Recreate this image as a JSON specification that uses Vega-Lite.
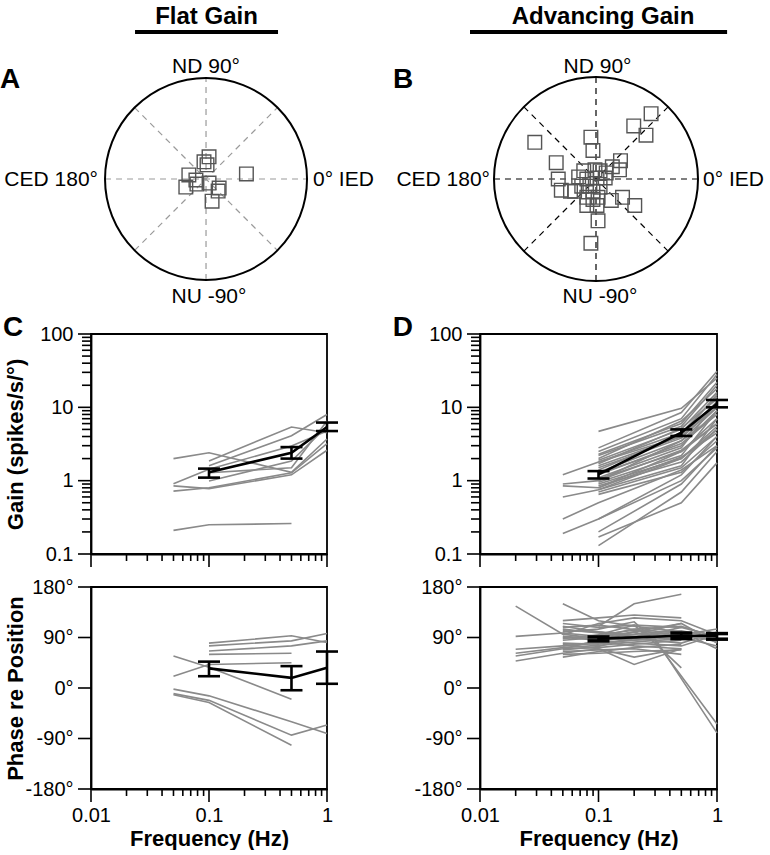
{
"$schema": "https://vega.github.io/schema/vega-lite/v6.json",
"padding": {"left": 0, "top": 4, "right": 0, "bottom": 0},
"config": {
  "font": "Liberation Sans",
  "view": {"stroke": "black", "strokeWidth": 1.8},
  "axis": {"ticks": false, "domainColor": "black", "domainWidth": 1.8, "labelFont": "Liberation Sans", "labelFontSize": 20, "labelColor": "black", "titleFont": "Liberation Sans", "titleFontSize": 22, "titleFontWeight": "bold", "titleColor": "black", "grid": false, "labelFlush": false, "labelOverlap": false}
},
"datasets": {
  "ticksFreq": [{"v": 0.01, "kind": "major"}, {"v": 0.02, "kind": "minor"}, {"v": 0.03, "kind": "minor"}, {"v": 0.04, "kind": "minor"}, {"v": 0.05, "kind": "minor"}, {"v": 0.06, "kind": "minor"}, {"v": 0.07, "kind": "minor"}, {"v": 0.08, "kind": "minor"}, {"v": 0.09, "kind": "minor"}, {"v": 0.1, "kind": "major"}, {"v": 0.2, "kind": "minor"}, {"v": 0.3, "kind": "minor"}, {"v": 0.4, "kind": "minor"}, {"v": 0.5, "kind": "minor"}, {"v": 0.6, "kind": "minor"}, {"v": 0.7, "kind": "minor"}, {"v": 0.8, "kind": "minor"}, {"v": 0.9, "kind": "minor"}, {"v": 1, "kind": "major"}],
  "ticksGain": [{"v": 0.1, "kind": "major"}, {"v": 0.2, "kind": "minor"}, {"v": 0.3, "kind": "minor"}, {"v": 0.4, "kind": "minor"}, {"v": 0.5, "kind": "minor"}, {"v": 0.6, "kind": "minor"}, {"v": 0.7, "kind": "minor"}, {"v": 0.8, "kind": "minor"}, {"v": 0.9, "kind": "minor"}, {"v": 1, "kind": "major"}, {"v": 2, "kind": "minor"}, {"v": 3, "kind": "minor"}, {"v": 4, "kind": "minor"}, {"v": 5, "kind": "minor"}, {"v": 6, "kind": "minor"}, {"v": 7, "kind": "minor"}, {"v": 8, "kind": "minor"}, {"v": 9, "kind": "minor"}, {"v": 10, "kind": "major"}, {"v": 20, "kind": "minor"}, {"v": 30, "kind": "minor"}, {"v": 40, "kind": "minor"}, {"v": 50, "kind": "minor"}, {"v": 60, "kind": "minor"}, {"v": 70, "kind": "minor"}, {"v": 80, "kind": "minor"}, {"v": 90, "kind": "minor"}, {"v": 100, "kind": "major"}],
  "ticksPhase": [{"v": -180}, {"v": -90}, {"v": 0}, {"v": 90}, {"v": 180}],
  "spokes": [{"x1": -1, "y1": 0, "x2": 1, "y2": 0}, {"x1": 0, "y1": -1, "x2": 0, "y2": 1}, {"x1": -0.707, "y1": -0.707, "x2": 0.707, "y2": 0.707}, {"x1": -0.707, "y1": 0.707, "x2": 0.707, "y2": -0.707}],
  "polarA": [{"x": 0.40, "y": 0.05}, {"x": 0.03, "y": 0.22}, {"x": 0.01, "y": 0.14}, {"x": -0.02, "y": 0.17}, {"x": -0.17, "y": 0.04}, {"x": -0.20, "y": -0.08}, {"x": -0.09, "y": -0.05}, {"x": 0.03, "y": -0.04}, {"x": 0.13, "y": -0.09}, {"x": 0.12, "y": -0.12}, {"x": 0.06, "y": -0.22}, {"x": -0.10, "y": -0.01}],
  "polarB": [{"x": 0.54, "y": 0.64}, {"x": 0.37, "y": 0.52}, {"x": 0.49, "y": 0.43}, {"x": -0.60, "y": 0.36}, {"x": -0.05, "y": 0.41}, {"x": -0.03, "y": 0.28}, {"x": -0.39, "y": 0.16}, {"x": 0.24, "y": 0.18}, {"x": 0.23, "y": 0.09}, {"x": 0.16, "y": 0.12}, {"x": -0.01, "y": 0.09}, {"x": -0.37, "y": 0.0}, {"x": -0.34, "y": -0.11}, {"x": -0.21, "y": -0.12}, {"x": -0.17, "y": 0.02}, {"x": -0.09, "y": 0.0}, {"x": 0.01, "y": 0.01}, {"x": 0.09, "y": 0.01}, {"x": 0.04, "y": -0.08}, {"x": -0.09, "y": -0.18}, {"x": -0.09, "y": -0.26}, {"x": 0.01, "y": -0.26}, {"x": 0.02, "y": -0.41}, {"x": -0.05, "y": -0.63}, {"x": 0.26, "y": -0.18}, {"x": 0.38, "y": -0.26}, {"x": 0.15, "y": -0.21}, {"x": -0.25, "y": -0.12}, {"x": -0.03, "y": -0.12}, {"x": -0.06, "y": -0.07}, {"x": -0.12, "y": 0.08}, {"x": 0.04, "y": 0.08}, {"x": 0.10, "y": 0.06}, {"x": -0.14, "y": -0.07}, {"x": -0.03, "y": -0.20}, {"x": 0.02, "y": -0.18}],
  "gainC": [
    {"cell": "c1", "freq": 0.05, "gain": 2.0}, {"cell": "c1", "freq": 0.1, "gain": 2.4}, {"cell": "c1", "freq": 0.5, "gain": 1.3}, {"cell": "c1", "freq": 1, "gain": 3.7},
    {"cell": "c2", "freq": 0.05, "gain": 0.91}, {"cell": "c2", "freq": 0.1, "gain": 1.43}, {"cell": "c2", "freq": 0.5, "gain": 2.97}, {"cell": "c2", "freq": 1, "gain": 4.75},
    {"cell": "c3", "freq": 0.05, "gain": 0.72}, {"cell": "c3", "freq": 0.1, "gain": 0.8}, {"cell": "c3", "freq": 0.5, "gain": 1.28}, {"cell": "c3", "freq": 1, "gain": 3.2},
    {"cell": "c4", "freq": 0.05, "gain": 0.21}, {"cell": "c4", "freq": 0.1, "gain": 0.25}, {"cell": "c4", "freq": 0.5, "gain": 0.26},
    {"cell": "c5", "freq": 0.1, "gain": 1.85}, {"cell": "c5", "freq": 0.5, "gain": 5.4}, {"cell": "c5", "freq": 1, "gain": 4.5},
    {"cell": "c6", "freq": 0.1, "gain": 1.6}, {"cell": "c6", "freq": 0.5, "gain": 4.1}, {"cell": "c6", "freq": 1, "gain": 8.0},
    {"cell": "c7", "freq": 0.1, "gain": 0.99}, {"cell": "c7", "freq": 0.5, "gain": 1.85}, {"cell": "c7", "freq": 1, "gain": 5.5},
    {"cell": "c8", "freq": 0.1, "gain": 1.28}, {"cell": "c8", "freq": 0.5, "gain": 1.5}, {"cell": "c8", "freq": 1, "gain": 6.5},
    {"cell": "c9", "freq": 0.05, "gain": 0.85}, {"cell": "c9", "freq": 0.1, "gain": 0.78}, {"cell": "c9", "freq": 0.5, "gain": 1.2}, {"cell": "c9", "freq": 1, "gain": 2.6}
  ],
  "gainCMean": [{"freq": 0.1, "mean": 1.3, "lo": 1.1, "hi": 1.46}, {"freq": 0.5, "mean": 2.4, "lo": 2.0, "hi": 2.87}, {"freq": 1, "mean": 5.4, "lo": 4.75, "hi": 6.2}],
  "phaseC": [
    {"cell": "p1", "freq": 0.1, "phase": 80}, {"cell": "p1", "freq": 0.5, "phase": 93}, {"cell": "p1", "freq": 1, "phase": 81},
    {"cell": "p2", "freq": 0.1, "phase": 75}, {"cell": "p2", "freq": 0.5, "phase": 84}, {"cell": "p2", "freq": 1, "phase": 97},
    {"cell": "p3", "freq": 0.1, "phase": 66}, {"cell": "p3", "freq": 0.5, "phase": 75}, {"cell": "p3", "freq": 1, "phase": 84},
    {"cell": "p4", "freq": 0.1, "phase": 60}, {"cell": "p4", "freq": 0.5, "phase": 62},
    {"cell": "p5", "freq": 0.05, "phase": 57}, {"cell": "p5", "freq": 0.1, "phase": 37}, {"cell": "p5", "freq": 0.5, "phase": -20},
    {"cell": "p6", "freq": 0.05, "phase": 21}, {"cell": "p6", "freq": 0.1, "phase": 42}, {"cell": "p6", "freq": 0.5, "phase": 45},
    {"cell": "p7", "freq": 0.05, "phase": -2}, {"cell": "p7", "freq": 0.1, "phase": -14}, {"cell": "p7", "freq": 0.5, "phase": -60}, {"cell": "p7", "freq": 1, "phase": -81},
    {"cell": "p8", "freq": 0.05, "phase": -10}, {"cell": "p8", "freq": 0.1, "phase": -22}, {"cell": "p8", "freq": 0.5, "phase": -84}, {"cell": "p8", "freq": 1, "phase": -66},
    {"cell": "p9", "freq": 0.05, "phase": -12}, {"cell": "p9", "freq": 0.1, "phase": -26}, {"cell": "p9", "freq": 0.5, "phase": -102}
  ],
  "phaseCMean": [{"freq": 0.1, "mean": 35, "lo": 21, "hi": 47}, {"freq": 0.5, "mean": 18, "lo": -4, "hi": 39}, {"freq": 1, "mean": 36, "lo": 7.5, "hi": 65}],
  "gainD": [
    {"cell": "d1", "freq": 0.1, "gain": 4.7}, {"cell": "d1", "freq": 0.5, "gain": 9.7}, {"cell": "d1", "freq": 1, "gain": 25},
    {"cell": "d2", "freq": 0.1, "gain": 2.8}, {"cell": "d2", "freq": 0.5, "gain": 8.5}, {"cell": "d2", "freq": 1, "gain": 31},
    {"cell": "d3", "freq": 0.1, "gain": 2.5}, {"cell": "d3", "freq": 0.5, "gain": 7.0}, {"cell": "d3", "freq": 1, "gain": 28},
    {"cell": "d4", "freq": 0.1, "gain": 2.3}, {"cell": "d4", "freq": 0.5, "gain": 6.0}, {"cell": "d4", "freq": 1, "gain": 22},
    {"cell": "d5", "freq": 0.1, "gain": 2.2}, {"cell": "d5", "freq": 0.5, "gain": 5.5}, {"cell": "d5", "freq": 1, "gain": 20},
    {"cell": "d6", "freq": 0.1, "gain": 2.0}, {"cell": "d6", "freq": 0.5, "gain": 6.5}, {"cell": "d6", "freq": 1, "gain": 18},
    {"cell": "d7", "freq": 0.1, "gain": 1.9}, {"cell": "d7", "freq": 0.5, "gain": 5.0}, {"cell": "d7", "freq": 1, "gain": 16},
    {"cell": "d8", "freq": 0.1, "gain": 1.8}, {"cell": "d8", "freq": 0.5, "gain": 4.5}, {"cell": "d8", "freq": 1, "gain": 14},
    {"cell": "d9", "freq": 0.1, "gain": 1.7}, {"cell": "d9", "freq": 0.5, "gain": 5.2}, {"cell": "d9", "freq": 1, "gain": 13},
    {"cell": "d10", "freq": 0.1, "gain": 1.6}, {"cell": "d10", "freq": 0.5, "gain": 4.0}, {"cell": "d10", "freq": 1, "gain": 12},
    {"cell": "d11", "freq": 0.1, "gain": 1.5}, {"cell": "d11", "freq": 0.5, "gain": 3.8}, {"cell": "d11", "freq": 1, "gain": 11},
    {"cell": "d12", "freq": 0.1, "gain": 1.4}, {"cell": "d12", "freq": 0.5, "gain": 4.2}, {"cell": "d12", "freq": 1, "gain": 15},
    {"cell": "d13", "freq": 0.1, "gain": 1.3}, {"cell": "d13", "freq": 0.5, "gain": 3.5}, {"cell": "d13", "freq": 1, "gain": 10},
    {"cell": "d14", "freq": 0.1, "gain": 1.25}, {"cell": "d14", "freq": 0.5, "gain": 3.0}, {"cell": "d14", "freq": 1, "gain": 9},
    {"cell": "d15", "freq": 0.1, "gain": 1.2}, {"cell": "d15", "freq": 0.5, "gain": 3.2}, {"cell": "d15", "freq": 1, "gain": 8},
    {"cell": "d16", "freq": 0.1, "gain": 1.1}, {"cell": "d16", "freq": 0.5, "gain": 2.8}, {"cell": "d16", "freq": 1, "gain": 12},
    {"cell": "d17", "freq": 0.1, "gain": 1.05}, {"cell": "d17", "freq": 0.5, "gain": 2.5}, {"cell": "d17", "freq": 1, "gain": 7},
    {"cell": "d18", "freq": 0.1, "gain": 1.0}, {"cell": "d18", "freq": 0.5, "gain": 2.6}, {"cell": "d18", "freq": 1, "gain": 6},
    {"cell": "d19", "freq": 0.1, "gain": 0.95}, {"cell": "d19", "freq": 0.5, "gain": 2.2}, {"cell": "d19", "freq": 1, "gain": 9},
    {"cell": "d20", "freq": 0.1, "gain": 0.9}, {"cell": "d20", "freq": 0.5, "gain": 2.0}, {"cell": "d20", "freq": 1, "gain": 5.5},
    {"cell": "d21", "freq": 0.1, "gain": 0.85}, {"cell": "d21", "freq": 0.5, "gain": 1.8}, {"cell": "d21", "freq": 1, "gain": 5},
    {"cell": "d22", "freq": 0.1, "gain": 0.8}, {"cell": "d22", "freq": 0.5, "gain": 2.1}, {"cell": "d22", "freq": 1, "gain": 4.5},
    {"cell": "d23", "freq": 0.1, "gain": 0.75}, {"cell": "d23", "freq": 0.5, "gain": 1.6}, {"cell": "d23", "freq": 1, "gain": 7},
    {"cell": "d24", "freq": 0.1, "gain": 0.7}, {"cell": "d24", "freq": 0.5, "gain": 1.5}, {"cell": "d24", "freq": 1, "gain": 4},
    {"cell": "d25", "freq": 0.1, "gain": 0.65}, {"cell": "d25", "freq": 0.5, "gain": 1.3}, {"cell": "d25", "freq": 1, "gain": 3.5},
    {"cell": "d26", "freq": 0.05, "gain": 1.2}, {"cell": "d26", "freq": 0.1, "gain": 1.8}, {"cell": "d26", "freq": 0.5, "gain": 4.0}, {"cell": "d26", "freq": 1, "gain": 10},
    {"cell": "d27", "freq": 0.05, "gain": 0.9}, {"cell": "d27", "freq": 0.1, "gain": 1.0}, {"cell": "d27", "freq": 0.5, "gain": 3.5}, {"cell": "d27", "freq": 1, "gain": 8},
    {"cell": "d28", "freq": 0.05, "gain": 0.85}, {"cell": "d28", "freq": 0.1, "gain": 0.8}, {"cell": "d28", "freq": 0.5, "gain": 2.5}, {"cell": "d28", "freq": 1, "gain": 6},
    {"cell": "d29", "freq": 0.05, "gain": 0.6}, {"cell": "d29", "freq": 0.1, "gain": 0.75}, {"cell": "d29", "freq": 0.5, "gain": 2.0}, {"cell": "d29", "freq": 1, "gain": 5},
    {"cell": "d30", "freq": 0.05, "gain": 0.3}, {"cell": "d30", "freq": 0.1, "gain": 0.5}, {"cell": "d30", "freq": 0.5, "gain": 1.4}, {"cell": "d30", "freq": 1, "gain": 3},
    {"cell": "d31", "freq": 0.05, "gain": 0.19}, {"cell": "d31", "freq": 0.1, "gain": 0.3}, {"cell": "d31", "freq": 0.5, "gain": 1.0}, {"cell": "d31", "freq": 1, "gain": 2.8},
    {"cell": "d32", "freq": 0.1, "gain": 0.17}, {"cell": "d32", "freq": 0.5, "gain": 0.5}, {"cell": "d32", "freq": 1, "gain": 1.75},
    {"cell": "d33", "freq": 0.1, "gain": 0.3}, {"cell": "d33", "freq": 0.5, "gain": 1.2}, {"cell": "d33", "freq": 1, "gain": 4},
    {"cell": "d34", "freq": 0.1, "gain": 0.2}, {"cell": "d34", "freq": 0.5, "gain": 0.9}, {"cell": "d34", "freq": 1, "gain": 3},
    {"cell": "d35", "freq": 0.1, "gain": 0.13}, {"cell": "d35", "freq": 0.5, "gain": 0.7}, {"cell": "d35", "freq": 1, "gain": 2.5}
  ],
  "gainDMean": [{"freq": 0.1, "mean": 1.22, "lo": 1.07, "hi": 1.35}, {"freq": 0.5, "mean": 4.5, "lo": 4.07, "hi": 5.0}, {"freq": 1, "mean": 11.2, "lo": 10, "hi": 12.6}],
  "phaseD": [
    {"cell": "e1", "freq": 0.02, "phase": 146}, {"cell": "e1", "freq": 0.05, "phase": 96}, {"cell": "e1", "freq": 0.1, "phase": 88}, {"cell": "e1", "freq": 0.2, "phase": 85}, {"cell": "e1", "freq": 0.5, "phase": 90}, {"cell": "e1", "freq": 1, "phase": 75},
    {"cell": "e2", "freq": 0.05, "phase": 150}, {"cell": "e2", "freq": 0.1, "phase": 120}, {"cell": "e2", "freq": 0.2, "phase": 110}, {"cell": "e2", "freq": 0.5, "phase": 100},
    {"cell": "e3", "freq": 0.1, "phase": 110}, {"cell": "e3", "freq": 0.2, "phase": 150}, {"cell": "e3", "freq": 0.5, "phase": 167},
    {"cell": "e4", "freq": 0.05, "phase": 95}, {"cell": "e4", "freq": 0.1, "phase": 115}, {"cell": "e4", "freq": 0.2, "phase": 125}, {"cell": "e4", "freq": 0.5, "phase": 120}, {"cell": "e4", "freq": 1, "phase": 95},
    {"cell": "e5", "freq": 0.02, "phase": 92}, {"cell": "e5", "freq": 0.05, "phase": 98}, {"cell": "e5", "freq": 0.1, "phase": 92}, {"cell": "e5", "freq": 0.2, "phase": 105}, {"cell": "e5", "freq": 0.5, "phase": 110}, {"cell": "e5", "freq": 1, "phase": 90},
    {"cell": "e6", "freq": 0.02, "phase": 69}, {"cell": "e6", "freq": 0.05, "phase": 75}, {"cell": "e6", "freq": 0.1, "phase": 80}, {"cell": "e6", "freq": 0.2, "phase": 85}, {"cell": "e6", "freq": 0.5, "phase": 95}, {"cell": "e6", "freq": 1, "phase": 85},
    {"cell": "e7", "freq": 0.02, "phase": 57}, {"cell": "e7", "freq": 0.05, "phase": 70}, {"cell": "e7", "freq": 0.1, "phase": 85}, {"cell": "e7", "freq": 0.2, "phase": 100}, {"cell": "e7", "freq": 0.5, "phase": 115},
    {"cell": "e8", "freq": 0.02, "phase": 48}, {"cell": "e8", "freq": 0.05, "phase": 62}, {"cell": "e8", "freq": 0.1, "phase": 70}, {"cell": "e8", "freq": 0.2, "phase": 55}, {"cell": "e8", "freq": 0.5, "phase": 70},
    {"cell": "e9", "freq": 0.05, "phase": 100}, {"cell": "e9", "freq": 0.1, "phase": 105}, {"cell": "e9", "freq": 0.2, "phase": 118}, {"cell": "e9", "freq": 0.3, "phase": 84}, {"cell": "e9", "freq": 1, "phase": -64},
    {"cell": "e10", "freq": 0.05, "phase": 85}, {"cell": "e10", "freq": 0.1, "phase": 90}, {"cell": "e10", "freq": 0.2, "phase": 100}, {"cell": "e10", "freq": 0.3, "phase": 88}, {"cell": "e10", "freq": 1, "phase": -80},
    {"cell": "e11", "freq": 0.05, "phase": 110}, {"cell": "e11", "freq": 0.1, "phase": 100}, {"cell": "e11", "freq": 0.2, "phase": 95}, {"cell": "e11", "freq": 0.5, "phase": 115}, {"cell": "e11", "freq": 1, "phase": 80},
    {"cell": "e12", "freq": 0.05, "phase": 105}, {"cell": "e12", "freq": 0.1, "phase": 98}, {"cell": "e12", "freq": 0.2, "phase": 92}, {"cell": "e12", "freq": 0.5, "phase": 100}, {"cell": "e12", "freq": 1, "phase": 70},
    {"cell": "e13", "freq": 0.05, "phase": 90}, {"cell": "e13", "freq": 0.1, "phase": 85}, {"cell": "e13", "freq": 0.2, "phase": 80}, {"cell": "e13", "freq": 0.5, "phase": 75}, {"cell": "e13", "freq": 1, "phase": 95},
    {"cell": "e14", "freq": 0.05, "phase": 80}, {"cell": "e14", "freq": 0.1, "phase": 78}, {"cell": "e14", "freq": 0.2, "phase": 88}, {"cell": "e14", "freq": 0.5, "phase": 80}, {"cell": "e14", "freq": 1, "phase": 100},
    {"cell": "e15", "freq": 0.05, "phase": 75}, {"cell": "e15", "freq": 0.1, "phase": 82}, {"cell": "e15", "freq": 0.2, "phase": 75}, {"cell": "e15", "freq": 0.5, "phase": 70},
    {"cell": "e16", "freq": 0.05, "phase": 70}, {"cell": "e16", "freq": 0.1, "phase": 72}, {"cell": "e16", "freq": 0.2, "phase": 78}, {"cell": "e16", "freq": 0.5, "phase": 85},
    {"cell": "e17", "freq": 0.05, "phase": 65}, {"cell": "e17", "freq": 0.1, "phase": 68}, {"cell": "e17", "freq": 0.2, "phase": 70}, {"cell": "e17", "freq": 0.5, "phase": 60},
    {"cell": "e18", "freq": 0.05, "phase": 115}, {"cell": "e18", "freq": 0.1, "phase": 108}, {"cell": "e18", "freq": 0.2, "phase": 112}, {"cell": "e18", "freq": 0.5, "phase": 108},
    {"cell": "e19", "freq": 0.05, "phase": 60}, {"cell": "e19", "freq": 0.1, "phase": 62}, {"cell": "e19", "freq": 0.2, "phase": 65}, {"cell": "e19", "freq": 0.5, "phase": 68},
    {"cell": "e20", "freq": 0.05, "phase": 88}, {"cell": "e20", "freq": 0.1, "phase": 95}, {"cell": "e20", "freq": 0.2, "phase": 103}, {"cell": "e20", "freq": 0.5, "phase": 92}, {"cell": "e20", "freq": 1, "phase": 88},
    {"cell": "e21", "freq": 0.05, "phase": 102}, {"cell": "e21", "freq": 0.1, "phase": 100}, {"cell": "e21", "freq": 0.2, "phase": 90}, {"cell": "e21", "freq": 0.5, "phase": 95}, {"cell": "e21", "freq": 1, "phase": 105},
    {"cell": "e22", "freq": 0.05, "phase": 92}, {"cell": "e22", "freq": 0.1, "phase": 88}, {"cell": "e22", "freq": 0.2, "phase": 96}, {"cell": "e22", "freq": 0.5, "phase": 102}, {"cell": "e22", "freq": 1, "phase": 90},
    {"cell": "e23", "freq": 0.05, "phase": 78}, {"cell": "e23", "freq": 0.1, "phase": 70}, {"cell": "e23", "freq": 0.2, "phase": 42}, {"cell": "e23", "freq": 0.5, "phase": 70},
    {"cell": "e24", "freq": 0.05, "phase": 120}, {"cell": "e24", "freq": 0.1, "phase": 125}, {"cell": "e24", "freq": 0.2, "phase": 130}, {"cell": "e24", "freq": 0.5, "phase": 125},
    {"cell": "e25", "freq": 0.05, "phase": 55}, {"cell": "e25", "freq": 0.1, "phase": 65}, {"cell": "e25", "freq": 0.2, "phase": 72}, {"cell": "e25", "freq": 0.5, "phase": 78},
    {"cell": "e26", "freq": 0.02, "phase": 62}, {"cell": "e26", "freq": 0.05, "phase": 72}, {"cell": "e26", "freq": 0.1, "phase": 76}, {"cell": "e26", "freq": 0.2, "phase": 82}, {"cell": "e26", "freq": 0.5, "phase": 88},
    {"cell": "e27", "freq": 0.05, "phase": 108}, {"cell": "e27", "freq": 0.1, "phase": 112}, {"cell": "e27", "freq": 0.2, "phase": 104}, {"cell": "e27", "freq": 0.5, "phase": 98}, {"cell": "e27", "freq": 1, "phase": 82},
    {"cell": "e28", "freq": 0.05, "phase": 68}, {"cell": "e28", "freq": 0.1, "phase": 74}, {"cell": "e28", "freq": 0.2, "phase": 90}, {"cell": "e28", "freq": 0.5, "phase": 108}, {"cell": "e28", "freq": 1, "phase": 92},
    {"cell": "e29", "freq": 0.1, "phase": 95}, {"cell": "e29", "freq": 0.2, "phase": 112}, {"cell": "e29", "freq": 0.3, "phase": 80}, {"cell": "e29", "freq": 0.5, "phase": 36}
  ],
  "phaseDMean": [{"freq": 0.1, "mean": 88, "lo": 84, "hi": 91}, {"freq": 0.5, "mean": 93, "lo": 88, "hi": 98}, {"freq": 1, "mean": 93, "lo": 87, "hi": 97}]
},
"columns": 2,
"spacing": {"row": 33, "column": 153},
"bounds": "flush",
"align": "each",
"concat": [
  {
    "width": 236, "height": 224, "view": {"stroke": null},
    "data": {"values": [{}]},
    "layer": [
      {"data": {"name": "spokes"}, "mark": {"type": "rule", "color": "#9a9a9a", "strokeWidth": 1.2, "strokeDash": [6, 5]},
       "encoding": {"x": {"field": "x1", "type": "quantitative", "scale": {"domain": [-1.139, 1.198], "nice": false, "zero": false}, "axis": null}, "y": {"field": "y1", "type": "quantitative", "scale": {"domain": [-1.208, 1.0099], "nice": false, "zero": false}, "axis": null}, "x2": {"field": "x2"}, "y2": {"field": "y2"}}},
      {"mark": {"type": "point", "shape": "circle", "size": 40804, "filled": false, "stroke": "black", "strokeWidth": 2, "opacity": 1},
       "encoding": {"x": {"datum": 0, "type": "quantitative", "scale": {"domain": [-1.139, 1.198], "nice": false, "zero": false}, "axis": null}, "y": {"datum": 0, "type": "quantitative", "scale": {"domain": [-1.208, 1.0099], "nice": false, "zero": false}, "axis": null}}},
      {"data": {"name": "polarA"}, "mark": {"type": "point", "shape": "square", "size": 185, "filled": false, "stroke": "#555555", "strokeWidth": 1.4, "opacity": 1},
       "encoding": {"x": {"field": "x", "type": "quantitative", "scale": {"domain": [-1.139, 1.198], "nice": false, "zero": false}, "axis": null}, "y": {"field": "y", "type": "quantitative", "scale": {"domain": [-1.208, 1.0099], "nice": false, "zero": false}, "axis": null}}},
      {"mark": {"type": "text", "text": "ND 90°", "fontSize": 21, "align": "center", "baseline": "alphabetic", "color": "black"},
       "encoding": {"x": {"datum": 0.0, "type": "quantitative", "scale": {"domain": [-1.139, 1.198], "nice": false, "zero": false}, "axis": null}, "y": {"datum": 1.052, "type": "quantitative", "scale": {"domain": [-1.208, 1.0099], "nice": false, "zero": false}, "axis": null}}},
      {"mark": {"type": "text", "text": "NU -90°", "fontSize": 21, "align": "center", "baseline": "alphabetic", "color": "black"},
       "encoding": {"x": {"datum": 0.029, "type": "quantitative", "scale": {"domain": [-1.139, 1.198], "nice": false, "zero": false}, "axis": null}, "y": {"datum": -1.228, "type": "quantitative", "scale": {"domain": [-1.208, 1.0099], "nice": false, "zero": false}, "axis": null}}},
      {"mark": {"type": "text", "text": "CED 180°", "fontSize": 21, "align": "right", "baseline": "alphabetic", "color": "black"},
       "encoding": {"x": {"datum": -1.07, "type": "quantitative", "scale": {"domain": [-1.139, 1.198], "nice": false, "zero": false}, "axis": null}, "y": {"datum": -0.069, "type": "quantitative", "scale": {"domain": [-1.208, 1.0099], "nice": false, "zero": false}, "axis": null}}},
      {"mark": {"type": "text", "text": "0° IED", "fontSize": 21, "align": "left", "baseline": "alphabetic", "color": "black"},
       "encoding": {"x": {"datum": 1.059, "type": "quantitative", "scale": {"domain": [-1.139, 1.198], "nice": false, "zero": false}, "axis": null}, "y": {"datum": -0.069, "type": "quantitative", "scale": {"domain": [-1.208, 1.0099], "nice": false, "zero": false}, "axis": null}}},
      {"mark": {"type": "text", "text": "Flat Gain", "fontSize": 24, "fontWeight": "bold", "align": "center", "baseline": "alphabetic", "color": "black"},
       "encoding": {"x": {"datum": 0.005, "type": "quantitative", "scale": {"domain": [-1.139, 1.198], "nice": false, "zero": false}, "axis": null}, "y": {"datum": 1.535, "type": "quantitative", "scale": {"domain": [-1.208, 1.0099], "nice": false, "zero": false}, "axis": null}}},
      {"mark": {"type": "rule", "color": "black", "strokeWidth": 4},
       "encoding": {"x": {"datum": -0.703, "type": "quantitative", "scale": {"domain": [-1.139, 1.198], "nice": false, "zero": false}, "axis": null}, "x2": {"datum": 0.713}, "y": {"datum": 1.455, "type": "quantitative", "scale": {"domain": [-1.208, 1.0099], "nice": false, "zero": false}, "axis": null}}},
      {"mark": {"type": "text", "text": "A", "fontSize": 28, "fontWeight": "bold", "align": "left", "baseline": "alphabetic", "color": "black"},
       "encoding": {"x": {"datum": -2.04, "type": "quantitative", "scale": {"domain": [-1.139, 1.198], "nice": false, "zero": false}, "axis": null}, "y": {"datum": 0.901, "type": "quantitative", "scale": {"domain": [-1.208, 1.0099], "nice": false, "zero": false}, "axis": null}}}
    ]
  },
  {
    "width": 237, "height": 224, "view": {"stroke": null},
    "data": {"values": [{}]},
    "layer": [
      {"data": {"name": "spokes"}, "mark": {"type": "rule", "color": "black", "strokeWidth": 1.2, "strokeDash": [6, 5]},
       "encoding": {"x": {"field": "x1", "type": "quantitative", "scale": {"domain": [-1.137, 1.186], "nice": false, "zero": false}, "axis": null}, "y": {"field": "y1", "type": "quantitative", "scale": {"domain": [-1.196, 1.0], "nice": false, "zero": false}, "axis": null}, "x2": {"field": "x2"}, "y2": {"field": "y2"}}},
      {"mark": {"type": "point", "shape": "circle", "size": 41616, "filled": false, "stroke": "black", "strokeWidth": 2, "opacity": 1},
       "encoding": {"x": {"datum": 0, "type": "quantitative", "scale": {"domain": [-1.137, 1.186], "nice": false, "zero": false}, "axis": null}, "y": {"datum": 0, "type": "quantitative", "scale": {"domain": [-1.196, 1.0], "nice": false, "zero": false}, "axis": null}}},
      {"data": {"name": "polarB"}, "mark": {"type": "point", "shape": "square", "size": 185, "filled": false, "stroke": "#555555", "strokeWidth": 1.4, "opacity": 1},
       "encoding": {"x": {"field": "x", "type": "quantitative", "scale": {"domain": [-1.137, 1.186], "nice": false, "zero": false}, "axis": null}, "y": {"field": "y", "type": "quantitative", "scale": {"domain": [-1.196, 1.0], "nice": false, "zero": false}, "axis": null}}},
      {"mark": {"type": "text", "text": "ND 90°", "fontSize": 21, "align": "center", "baseline": "alphabetic", "color": "black"},
       "encoding": {"x": {"datum": 0.015, "type": "quantitative", "scale": {"domain": [-1.137, 1.186], "nice": false, "zero": false}, "axis": null}, "y": {"datum": 1.039, "type": "quantitative", "scale": {"domain": [-1.196, 1.0], "nice": false, "zero": false}, "axis": null}}},
      {"mark": {"type": "text", "text": "NU -90°", "fontSize": 21, "align": "center", "baseline": "alphabetic", "color": "black"},
       "encoding": {"x": {"datum": 0.039, "type": "quantitative", "scale": {"domain": [-1.137, 1.186], "nice": false, "zero": false}, "axis": null}, "y": {"datum": -1.216, "type": "quantitative", "scale": {"domain": [-1.196, 1.0], "nice": false, "zero": false}, "axis": null}}},
      {"mark": {"type": "text", "text": "CED 180°", "fontSize": 21, "align": "right", "baseline": "alphabetic", "color": "black"},
       "encoding": {"x": {"datum": -1.039, "type": "quantitative", "scale": {"domain": [-1.137, 1.186], "nice": false, "zero": false}, "axis": null}, "y": {"datum": -0.069, "type": "quantitative", "scale": {"domain": [-1.196, 1.0], "nice": false, "zero": false}, "axis": null}}},
      {"mark": {"type": "text", "text": "0° IED", "fontSize": 21, "align": "left", "baseline": "alphabetic", "color": "black"},
       "encoding": {"x": {"datum": 1.049, "type": "quantitative", "scale": {"domain": [-1.137, 1.186], "nice": false, "zero": false}, "axis": null}, "y": {"datum": -0.069, "type": "quantitative", "scale": {"domain": [-1.196, 1.0], "nice": false, "zero": false}, "axis": null}}},
      {"mark": {"type": "text", "text": "Advancing Gain", "fontSize": 24, "fontWeight": "bold", "align": "center", "baseline": "alphabetic", "color": "black"},
       "encoding": {"x": {"datum": 0.069, "type": "quantitative", "scale": {"domain": [-1.137, 1.186], "nice": false, "zero": false}, "axis": null}, "y": {"datum": 1.52, "type": "quantitative", "scale": {"domain": [-1.196, 1.0], "nice": false, "zero": false}, "axis": null}}},
      {"mark": {"type": "rule", "color": "black", "strokeWidth": 4},
       "encoding": {"x": {"datum": -1.235, "type": "quantitative", "scale": {"domain": [-1.137, 1.186], "nice": false, "zero": false}, "axis": null}, "x2": {"datum": 1.285}, "y": {"datum": 1.441, "type": "quantitative", "scale": {"domain": [-1.196, 1.0], "nice": false, "zero": false}, "axis": null}}},
      {"mark": {"type": "text", "text": "B", "fontSize": 28, "fontWeight": "bold", "align": "left", "baseline": "alphabetic", "color": "black"},
       "encoding": {"x": {"datum": -1.99, "type": "quantitative", "scale": {"domain": [-1.137, 1.186], "nice": false, "zero": false}, "axis": null}, "y": {"datum": 0.892, "type": "quantitative", "scale": {"domain": [-1.196, 1.0], "nice": false, "zero": false}, "axis": null}}}
    ]
  },
  {
    "width": 236, "height": 220,
    "data": {"values": [{}]},
    "layer": [
      {"data": {"name": "gainC"}, "mark": {"type": "line", "color": "#8a8a8a", "strokeWidth": 1.6},
       "encoding": {
         "x": {"field": "freq", "type": "quantitative", "scale": {"type": "log", "domain": [0.01, 1], "nice": false}, "axis": {"title": null, "labels": false, "ticks": false, "values": [0.01, 0.1, 1]}},
         "y": {"field": "gain", "type": "quantitative", "scale": {"type": "log", "domain": [0.1, 100], "nice": false}, "axis": {"title": "Gain (spikes/s/°)", "titlePadding": 12, "ticks": false, "labelPadding": 18, "values": [0.1, 1, 10, 100], "labelExpr": "'' + datum.value"}},
         "detail": {"field": "cell"}}},
      {"data": {"name": "gainCMean"}, "mark": {"type": "line", "color": "black", "strokeWidth": 2.6},
       "encoding": {"x": {"field": "freq", "type": "quantitative", "scale": {"type": "log", "domain": [0.01, 1], "nice": false}}, "y": {"field": "mean", "type": "quantitative", "scale": {"type": "log", "domain": [0.1, 100], "nice": false}}}},
      {"data": {"name": "gainCMean"}, "mark": {"type": "rule", "color": "black", "strokeWidth": 2.6},
       "encoding": {"x": {"field": "freq", "type": "quantitative", "scale": {"type": "log", "domain": [0.01, 1], "nice": false}}, "y": {"field": "lo", "type": "quantitative", "scale": {"type": "log", "domain": [0.1, 100], "nice": false}}, "y2": {"field": "hi"}}},
      {"data": {"name": "gainCMean"}, "mark": {"type": "tick", "orient": "horizontal", "size": 22, "thickness": 2.6, "color": "black", "opacity": 1},
       "encoding": {"x": {"field": "freq", "type": "quantitative", "scale": {"type": "log", "domain": [0.01, 1], "nice": false}}, "y": {"field": "lo", "type": "quantitative", "scale": {"type": "log", "domain": [0.1, 100], "nice": false}}}},
      {"data": {"name": "gainCMean"}, "mark": {"type": "tick", "orient": "horizontal", "size": 22, "thickness": 2.6, "color": "black", "opacity": 1},
       "encoding": {"x": {"field": "freq", "type": "quantitative", "scale": {"type": "log", "domain": [0.01, 1], "nice": false}}, "y": {"field": "hi", "type": "quantitative", "scale": {"type": "log", "domain": [0.1, 100], "nice": false}}}},
      {"data": {"name": "ticksFreq"}, "transform": [{"filter": "datum.kind == 'major'"}], "mark": {"type": "tick", "orient": "vertical", "size": 13, "thickness": 1.6, "color": "black", "opacity": 1},
       "encoding": {"x": {"field": "v", "type": "quantitative", "scale": {"type": "log", "domain": [0.01, 1], "nice": false}}, "y": {"datum": 0.0815, "type": "quantitative", "scale": {"type": "log", "domain": [0.1, 100], "nice": false}}}},
      {"data": {"name": "ticksFreq"}, "transform": [{"filter": "datum.kind == 'minor'"}], "mark": {"type": "tick", "orient": "vertical", "size": 7, "thickness": 1.6, "color": "black", "opacity": 1},
       "encoding": {"x": {"field": "v", "type": "quantitative", "scale": {"type": "log", "domain": [0.01, 1], "nice": false}}, "y": {"datum": 0.0896, "type": "quantitative", "scale": {"type": "log", "domain": [0.1, 100], "nice": false}}}},
      {"data": {"name": "ticksGain"}, "transform": [{"filter": "datum.kind == 'major'"}], "mark": {"type": "tick", "orient": "horizontal", "size": 13, "thickness": 1.6, "color": "black", "opacity": 1},
       "encoding": {"y": {"field": "v", "type": "quantitative", "scale": {"type": "log", "domain": [0.1, 100], "nice": false}}, "x": {"datum": 0.00881, "type": "quantitative", "scale": {"type": "log", "domain": [0.01, 1], "nice": false}}}},
      {"data": {"name": "ticksGain"}, "transform": [{"filter": "datum.kind == 'minor'"}], "mark": {"type": "tick", "orient": "horizontal", "size": 9, "thickness": 1.6, "color": "black", "opacity": 1},
       "encoding": {"y": {"field": "v", "type": "quantitative", "scale": {"type": "log", "domain": [0.1, 100], "nice": false}}, "x": {"datum": 0.00916, "type": "quantitative", "scale": {"type": "log", "domain": [0.01, 1], "nice": false}}}},
      {"mark": {"type": "text", "text": "C", "fontSize": 28, "fontWeight": "bold", "align": "left", "baseline": "alphabetic", "color": "black"},
       "encoding": {"x": {"datum": 0.001795, "type": "quantitative", "scale": {"type": "log", "domain": [0.01, 1], "nice": false}}, "y": {"datum": 93.9, "type": "quantitative", "scale": {"type": "log", "domain": [0.1, 100], "nice": false}}}}
    ]
  },
  {
    "width": 237, "height": 220,
    "data": {"values": [{}]},
    "layer": [
      {"data": {"name": "gainD"}, "mark": {"type": "line", "color": "#8a8a8a", "strokeWidth": 1.6},
       "encoding": {
         "x": {"field": "freq", "type": "quantitative", "scale": {"type": "log", "domain": [0.01, 1], "nice": false}, "axis": {"title": null, "labels": false, "ticks": false, "values": [0.01, 0.1, 1]}},
         "y": {"field": "gain", "type": "quantitative", "scale": {"type": "log", "domain": [0.1, 100], "nice": false}, "axis": {"title": null, "ticks": false, "labelPadding": 18, "values": [0.1, 1, 10, 100], "labelExpr": "'' + datum.value"}},
         "detail": {"field": "cell"}}},
      {"data": {"name": "gainDMean"}, "mark": {"type": "line", "color": "black", "strokeWidth": 2.6},
       "encoding": {"x": {"field": "freq", "type": "quantitative", "scale": {"type": "log", "domain": [0.01, 1], "nice": false}}, "y": {"field": "mean", "type": "quantitative", "scale": {"type": "log", "domain": [0.1, 100], "nice": false}}}},
      {"data": {"name": "gainDMean"}, "mark": {"type": "rule", "color": "black", "strokeWidth": 2.6},
       "encoding": {"x": {"field": "freq", "type": "quantitative", "scale": {"type": "log", "domain": [0.01, 1], "nice": false}}, "y": {"field": "lo", "type": "quantitative", "scale": {"type": "log", "domain": [0.1, 100], "nice": false}}, "y2": {"field": "hi"}}},
      {"data": {"name": "gainDMean"}, "mark": {"type": "tick", "orient": "horizontal", "size": 22, "thickness": 2.6, "color": "black", "opacity": 1},
       "encoding": {"x": {"field": "freq", "type": "quantitative", "scale": {"type": "log", "domain": [0.01, 1], "nice": false}}, "y": {"field": "lo", "type": "quantitative", "scale": {"type": "log", "domain": [0.1, 100], "nice": false}}}},
      {"data": {"name": "gainDMean"}, "mark": {"type": "tick", "orient": "horizontal", "size": 22, "thickness": 2.6, "color": "black", "opacity": 1},
       "encoding": {"x": {"field": "freq", "type": "quantitative", "scale": {"type": "log", "domain": [0.01, 1], "nice": false}}, "y": {"field": "hi", "type": "quantitative", "scale": {"type": "log", "domain": [0.1, 100], "nice": false}}}},
      {"data": {"name": "ticksFreq"}, "transform": [{"filter": "datum.kind == 'major'"}], "mark": {"type": "tick", "orient": "vertical", "size": 13, "thickness": 1.6, "color": "black", "opacity": 1},
       "encoding": {"x": {"field": "v", "type": "quantitative", "scale": {"type": "log", "domain": [0.01, 1], "nice": false}}, "y": {"datum": 0.0815, "type": "quantitative", "scale": {"type": "log", "domain": [0.1, 100], "nice": false}}}},
      {"data": {"name": "ticksFreq"}, "transform": [{"filter": "datum.kind == 'minor'"}], "mark": {"type": "tick", "orient": "vertical", "size": 7, "thickness": 1.6, "color": "black", "opacity": 1},
       "encoding": {"x": {"field": "v", "type": "quantitative", "scale": {"type": "log", "domain": [0.01, 1], "nice": false}}, "y": {"datum": 0.0896, "type": "quantitative", "scale": {"type": "log", "domain": [0.1, 100], "nice": false}}}},
      {"data": {"name": "ticksGain"}, "transform": [{"filter": "datum.kind == 'major'"}], "mark": {"type": "tick", "orient": "horizontal", "size": 13, "thickness": 1.6, "color": "black", "opacity": 1},
       "encoding": {"y": {"field": "v", "type": "quantitative", "scale": {"type": "log", "domain": [0.1, 100], "nice": false}}, "x": {"datum": 0.00881, "type": "quantitative", "scale": {"type": "log", "domain": [0.01, 1], "nice": false}}}},
      {"data": {"name": "ticksGain"}, "transform": [{"filter": "datum.kind == 'minor'"}], "mark": {"type": "tick", "orient": "horizontal", "size": 9, "thickness": 1.6, "color": "black", "opacity": 1},
       "encoding": {"y": {"field": "v", "type": "quantitative", "scale": {"type": "log", "domain": [0.1, 100], "nice": false}}, "x": {"datum": 0.00916, "type": "quantitative", "scale": {"type": "log", "domain": [0.01, 1], "nice": false}}}},
      {"mark": {"type": "text", "text": "D", "fontSize": 28, "fontWeight": "bold", "align": "left", "baseline": "alphabetic", "color": "black"},
       "encoding": {"x": {"datum": 0.001834, "type": "quantitative", "scale": {"type": "log", "domain": [0.01, 1], "nice": false}}, "y": {"datum": 93.9, "type": "quantitative", "scale": {"type": "log", "domain": [0.1, 100], "nice": false}}}}
    ]
  },
  {
    "width": 236, "height": 202,
    "layer": [
      {"data": {"name": "phaseC"}, "mark": {"type": "line", "color": "#8a8a8a", "strokeWidth": 1.6},
       "encoding": {
         "x": {"field": "freq", "type": "quantitative", "scale": {"type": "log", "domain": [0.01, 1], "nice": false}, "axis": {"title": "Frequency (Hz)", "titlePadding": 3, "ticks": false, "labelPadding": 16, "values": [0.01, 0.1, 1], "labelExpr": "'' + datum.value"}},
         "y": {"field": "phase", "type": "quantitative", "scale": {"domain": [-180, 180], "nice": false, "zero": false}, "axis": {"title": "Phase re Position", "titlePadding": -3, "ticks": false, "labelPadding": 18, "values": [-180, -90, 0, 90, 180], "labelExpr": "datum.value + '°'"}},
         "detail": {"field": "cell"}}},
      {"data": {"name": "phaseCMean"}, "mark": {"type": "line", "color": "black", "strokeWidth": 2.6},
       "encoding": {"x": {"field": "freq", "type": "quantitative", "scale": {"type": "log", "domain": [0.01, 1], "nice": false}}, "y": {"field": "mean", "type": "quantitative", "scale": {"domain": [-180, 180], "nice": false, "zero": false}}}},
      {"data": {"name": "phaseCMean"}, "mark": {"type": "rule", "color": "black", "strokeWidth": 2.6},
       "encoding": {"x": {"field": "freq", "type": "quantitative", "scale": {"type": "log", "domain": [0.01, 1], "nice": false}}, "y": {"field": "lo", "type": "quantitative", "scale": {"domain": [-180, 180], "nice": false, "zero": false}}, "y2": {"field": "hi"}}},
      {"data": {"name": "phaseCMean"}, "mark": {"type": "tick", "orient": "horizontal", "size": 22, "thickness": 2.6, "color": "black", "opacity": 1},
       "encoding": {"x": {"field": "freq", "type": "quantitative", "scale": {"type": "log", "domain": [0.01, 1], "nice": false}}, "y": {"field": "lo", "type": "quantitative", "scale": {"domain": [-180, 180], "nice": false, "zero": false}}}},
      {"data": {"name": "phaseCMean"}, "mark": {"type": "tick", "orient": "horizontal", "size": 22, "thickness": 2.6, "color": "black", "opacity": 1},
       "encoding": {"x": {"field": "freq", "type": "quantitative", "scale": {"type": "log", "domain": [0.01, 1], "nice": false}}, "y": {"field": "hi", "type": "quantitative", "scale": {"domain": [-180, 180], "nice": false, "zero": false}}}},
      {"data": {"name": "ticksFreq"}, "transform": [{"filter": "datum.kind == 'major'"}], "mark": {"type": "tick", "orient": "vertical", "size": 13, "thickness": 1.6, "color": "black", "opacity": 1},
       "encoding": {"x": {"field": "v", "type": "quantitative", "scale": {"type": "log", "domain": [0.01, 1], "nice": false}}, "y": {"datum": -191.6, "type": "quantitative", "scale": {"domain": [-180, 180], "nice": false, "zero": false}}}},
      {"data": {"name": "ticksFreq"}, "transform": [{"filter": "datum.kind == 'minor'"}], "mark": {"type": "tick", "orient": "vertical", "size": 7, "thickness": 1.6, "color": "black", "opacity": 1},
       "encoding": {"x": {"field": "v", "type": "quantitative", "scale": {"type": "log", "domain": [0.01, 1], "nice": false}}, "y": {"datum": -186.2, "type": "quantitative", "scale": {"domain": [-180, 180], "nice": false, "zero": false}}}},
      {"data": {"name": "ticksPhase"}, "mark": {"type": "tick", "orient": "horizontal", "size": 13, "thickness": 1.6, "color": "black", "opacity": 1},
       "encoding": {"y": {"field": "v", "type": "quantitative", "scale": {"domain": [-180, 180], "nice": false, "zero": false}}, "x": {"datum": 0.00881, "type": "quantitative", "scale": {"type": "log", "domain": [0.01, 1], "nice": false}}}}
    ]
  },
  {
    "width": 237, "height": 202,
    "layer": [
      {"data": {"name": "phaseD"}, "mark": {"type": "line", "color": "#8a8a8a", "strokeWidth": 1.6},
       "encoding": {
         "x": {"field": "freq", "type": "quantitative", "scale": {"type": "log", "domain": [0.01, 1], "nice": false}, "axis": {"title": "Frequency (Hz)", "titlePadding": 3, "ticks": false, "labelPadding": 16, "values": [0.01, 0.1, 1], "labelExpr": "'' + datum.value"}},
         "y": {"field": "phase", "type": "quantitative", "scale": {"domain": [-180, 180], "nice": false, "zero": false}, "axis": {"title": null, "ticks": false, "labelPadding": 18, "values": [-180, -90, 0, 90, 180], "labelExpr": "datum.value + '°'"}},
         "detail": {"field": "cell"}}},
      {"data": {"name": "phaseDMean"}, "mark": {"type": "line", "color": "black", "strokeWidth": 2.6},
       "encoding": {"x": {"field": "freq", "type": "quantitative", "scale": {"type": "log", "domain": [0.01, 1], "nice": false}}, "y": {"field": "mean", "type": "quantitative", "scale": {"domain": [-180, 180], "nice": false, "zero": false}}}},
      {"data": {"name": "phaseDMean"}, "mark": {"type": "rule", "color": "black", "strokeWidth": 2.6},
       "encoding": {"x": {"field": "freq", "type": "quantitative", "scale": {"type": "log", "domain": [0.01, 1], "nice": false}}, "y": {"field": "lo", "type": "quantitative", "scale": {"domain": [-180, 180], "nice": false, "zero": false}}, "y2": {"field": "hi"}}},
      {"data": {"name": "phaseDMean"}, "mark": {"type": "tick", "orient": "horizontal", "size": 22, "thickness": 3.5, "color": "black", "opacity": 1},
       "encoding": {"x": {"field": "freq", "type": "quantitative", "scale": {"type": "log", "domain": [0.01, 1], "nice": false}}, "y": {"field": "lo", "type": "quantitative", "scale": {"domain": [-180, 180], "nice": false, "zero": false}}}},
      {"data": {"name": "phaseDMean"}, "mark": {"type": "tick", "orient": "horizontal", "size": 22, "thickness": 3.5, "color": "black", "opacity": 1},
       "encoding": {"x": {"field": "freq", "type": "quantitative", "scale": {"type": "log", "domain": [0.01, 1], "nice": false}}, "y": {"field": "hi", "type": "quantitative", "scale": {"domain": [-180, 180], "nice": false, "zero": false}}}},
      {"data": {"name": "ticksFreq"}, "transform": [{"filter": "datum.kind == 'major'"}], "mark": {"type": "tick", "orient": "vertical", "size": 13, "thickness": 1.6, "color": "black", "opacity": 1},
       "encoding": {"x": {"field": "v", "type": "quantitative", "scale": {"type": "log", "domain": [0.01, 1], "nice": false}}, "y": {"datum": -191.6, "type": "quantitative", "scale": {"domain": [-180, 180], "nice": false, "zero": false}}}},
      {"data": {"name": "ticksFreq"}, "transform": [{"filter": "datum.kind == 'minor'"}], "mark": {"type": "tick", "orient": "vertical", "size": 7, "thickness": 1.6, "color": "black", "opacity": 1},
       "encoding": {"x": {"field": "v", "type": "quantitative", "scale": {"type": "log", "domain": [0.01, 1], "nice": false}}, "y": {"datum": -186.2, "type": "quantitative", "scale": {"domain": [-180, 180], "nice": false, "zero": false}}}},
      {"data": {"name": "ticksPhase"}, "mark": {"type": "tick", "orient": "horizontal", "size": 13, "thickness": 1.6, "color": "black", "opacity": 1},
       "encoding": {"y": {"field": "v", "type": "quantitative", "scale": {"domain": [-180, 180], "nice": false, "zero": false}}, "x": {"datum": 0.00881, "type": "quantitative", "scale": {"type": "log", "domain": [0.01, 1], "nice": false}}}}
    ]
  }
]
}
